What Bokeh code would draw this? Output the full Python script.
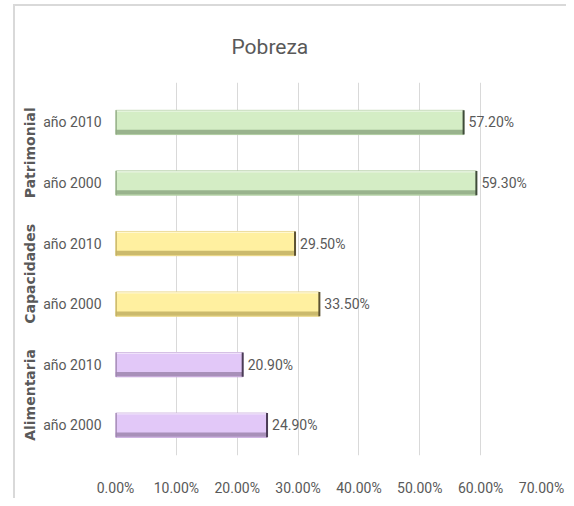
import math
from bokeh.plotting import figure
from bokeh.models import (Range1d, LabelSet, NumeralTickFormatter, FixedTicker,
                          ColumnDataSource, LinearAxis)
from bokeh.core.properties import value
from bokeh.embed import file_html
from bokeh.resources import INLINE

# ---- data ----
title_text = "Pobreza"
groups = ["Alimentaria", "Capacidades", "Patrimonial"]
years = ["año 2000", "año 2010"]
alimentaria = [0.249, 0.209]
capacidades = [0.335, 0.295]
patrimonial = [0.593, 0.572]
x_ticks = [0.0, 0.1, 0.2, 0.3, 0.4, 0.5, 0.6, 0.7]

# ---- style ----
fills = ["#e2c8f8", "#fff0a0", "#d4edc5"]
darks = ["#9e86ae", "#c2b064", "#8ea882"]
edges = ["#4b3c56", "#5c5232", "#3f4c39"]
outlines = ["#c7a9dc", "#e6d27e", "#aecb9f"]
TXT = "#595959"
FONT = "Roboto"
BAR_H = 0.40

series = [alimentaria, capacidades, patrimonial]
ys, vals, fc, dc, ec, oc, cats, labs = [], [], [], [], [], [], [], []
i = 0
for gi, g in enumerate(groups):
    for yi, yr in enumerate(years):
        ys.append(i)
        vals.append(series[gi][yi])
        fc.append(fills[gi]); dc.append(darks[gi]); ec.append(edges[gi]); oc.append(outlines[gi])
        cats.append(yr)
        labs.append(f"{series[gi][yi]*100:.2f}%")
        i += 1
group_pos = [gi * len(years) + (len(years) - 1) / 2 for gi in range(len(groups))]

src = ColumnDataSource(dict(
    y=ys, v=vals, fill=fc, dark=dc, edge=ec, outline=oc, lab=labs,
    y_bot=[y - BAR_H / 2 + 0.045 for y in ys],
    y_top=[y + BAR_H / 2 - 0.012 for y in ys],
    y0=[y - BAR_H / 2 for y in ys],
    y1=[y + BAR_H / 2 for y in ys],
    zero=[0.0] * len(ys),
))

p = figure(width=566, height=498, output_backend="svg", toolbar_location=None,
           x_range=Range1d(0, 0.7), y_range=Range1d(-0.5, 5.66),
           min_border_left=115, min_border_right=25, min_border_top=82, min_border_bottom=43,
           title=title_text)
p.outline_line_color = None
p.border_fill_color = None
p.background_fill_color = "white"
p.styles = {
    "background": "linear-gradient(#d9d9d9,#d9d9d9) 13px 4px / 2px 494px no-repeat, "
                  "linear-gradient(#d9d9d9,#d9d9d9) 13px 4px / 553px 2px no-repeat",
}

# title
p.title.align = "left"
p.title.offset = 116
p.title.standoff = 48
p.title.text_font = FONT
p.title.text_font_style = "normal"
p.title.text_font_size = "21px"
p.title.text_color = TXT

# bars with bevel imitation
p.hbar(y="y", left=0, right="v", height=BAR_H, source=src, fill_color="fill",
       line_color="outline", line_width=1)
p.hbar(y="y_bot", left=0, right="v", height=0.07, source=src, fill_color="dark",
       fill_alpha=0.85, line_color=None)
p.hbar(y="y_top", left=0, right="v", height=0.025, source=src, fill_color="white",
       fill_alpha=0.5, line_color=None)
p.segment(x0="zero", y0="y0", x1="zero", y1="y1", source=src, line_color="dark",
          line_width=3, line_alpha=0.8)
p.segment(x0="v", y0="y0", x1="v", y1="y1", source=src, line_color="edge", line_width=2)

# value labels
p.add_layout(LabelSet(x="v", y="y", text="lab", source=src, x_offset=5,
                      text_baseline="middle", text_align="left",
                      text_font=value(FONT), text_font_size="14px", text_color=TXT))

# x axis
p.xaxis.ticker = FixedTicker(ticks=x_ticks)
p.xaxis.formatter = NumeralTickFormatter(format="0.00%")
p.xaxis.axis_line_color = None
p.xaxis.major_tick_line_color = None
p.xaxis.minor_tick_line_color = None
p.xaxis.major_label_standoff = 18
p.xaxis.major_label_text_font = FONT
p.xaxis.major_label_text_font_size = "14px"
p.xaxis.major_label_text_color = TXT
p.xgrid.ticker = FixedTicker(ticks=x_ticks)
p.xgrid.grid_line_color = "#d9d9d9"
p.ygrid.grid_line_color = None

# y axis (years)
p.yaxis.ticker = FixedTicker(ticks=ys)
p.yaxis.major_label_overrides = {y: c for y, c in zip(ys, cats)}
p.yaxis.axis_line_color = None
p.yaxis.major_tick_line_color = None
p.yaxis.minor_tick_line_color = None
p.yaxis.major_label_standoff = 8
p.yaxis.major_label_text_font = FONT
p.yaxis.major_label_text_font_size = "14px"
p.yaxis.major_label_text_color = TXT

# outer y axis (groups)
gax = LinearAxis(ticker=FixedTicker(ticks=group_pos),
                 major_label_overrides={gp: g for gp, g in zip(group_pos, groups)},
                 major_label_orientation="parallel",
                 axis_line_color=None, major_tick_line_color=None,
                 minor_tick_line_color=None, major_label_standoff=-4,
                 major_label_text_font="DejaVu Sans", major_label_text_font_style="bold",
                 major_label_text_font_size="14px", major_label_text_color=TXT)
p.add_layout(gax, "left")

open("out.html", "w").write(file_html(p, INLINE))
